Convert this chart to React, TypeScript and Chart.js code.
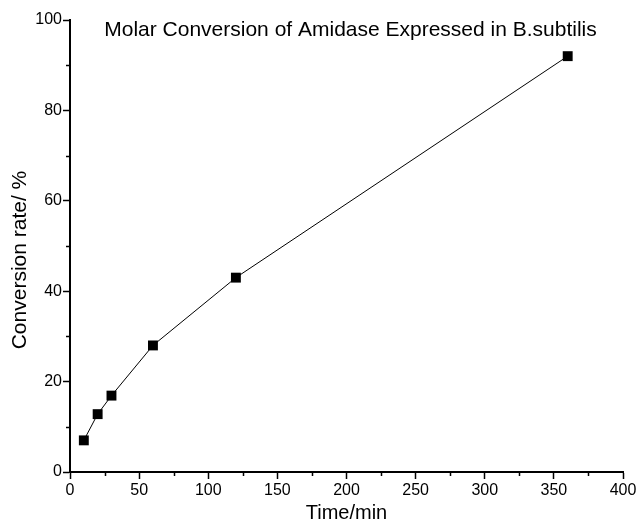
import React, { useEffect, useRef } from "react";
import { Chart, registerables } from "chart.js";

Chart.register(...registerables);

const chartTitle = "Molar Conversion of Amidase Expressed in B.subtilis";
const xAxisTitle = "Time/min";
const yAxisTitle = "Conversion rate/ %";
const timeMin = [10, 20, 30, 60, 120, 360];
const conversionRate = [7, 12.8, 16.9, 28, 43, 92];
const xMinorTicks = [25, 75, 125, 175, 225, 275, 325, 375];
const yMinorTicks = [10, 30, 50, 70, 90];

const FONT = '"Liberation Sans", Arial, sans-serif';

const minorTicksAndTitle = {
  id: "minorTicksAndTitle",
  afterDraw(chart: any) {
    const ctx = chart.ctx;
    const xs = chart.scales.x;
    const ys = chart.scales.y;
    const area = chart.chartArea;
    ctx.save();
    ctx.strokeStyle = "#000";
    ctx.lineWidth = 1.5;
    ctx.beginPath();
    xMinorTicks.forEach((v) => {
      const px = Math.round(xs.getPixelForValue(v)) + 0.5;
      ctx.moveTo(px, area.bottom);
      ctx.lineTo(px, area.bottom + 4);
    });
    yMinorTicks.forEach((v) => {
      const py = Math.round(ys.getPixelForValue(v)) + 0.5;
      ctx.moveTo(area.left, py);
      ctx.lineTo(area.left - 4, py);
    });
    ctx.stroke();
    ctx.fillStyle = "#000";
    ctx.textAlign = "center";
    ctx.textBaseline = "middle";
    ctx.font = `21px ${FONT}`;
    ctx.fillText(chartTitle, (area.left + area.right) / 2 + 4, area.top + 10);
    // y-axis title, centred slightly below the plot centre as in the reference
    ctx.translate(20, (area.top + area.bottom) / 2 + 14);
    ctx.rotate(-Math.PI / 2);
    ctx.font = `21px ${FONT}`;
    ctx.fillText(yAxisTitle, 0, 0);
    ctx.restore();
  },
};

export default function App() {
  const ref = useRef<HTMLCanvasElement | null>(null);
  useEffect(() => {
    if (!ref.current) return;
    const points = timeMin.map((t, i) => ({ x: t, y: conversionRate[i] }));
    const chart = new Chart(ref.current, {
      type: "scatter",
      data: {
        datasets: [
          {
            data: points,
            showLine: true,
            borderColor: "#000",
            borderWidth: 1,
            backgroundColor: "#000",
            pointStyle: "rect",
            pointRadius: 7,
            pointBorderWidth: 0,
          },
        ],
      },
      options: {
        animation: false,
        responsive: true,
        maintainAspectRatio: false,
        layout: { padding: { top: 20, right: 17, left: 0, bottom: 0 } },
        plugins: {
          legend: { display: false },
          tooltip: { enabled: false },
          title: { display: false },
        },
        scales: {
          x: {
            type: "linear",
            min: 0,
            max: 400,
            afterFit: (s: any) => {
              s.height = 53;
            },
            ticks: {
              stepSize: 50,
              color: "#000",
              font: { family: FONT, size: 16 },
              padding: 2,
              maxRotation: 0,
            },
            grid: {
              display: true,
              drawOnChartArea: false,
              drawTicks: true,
              tickLength: 7,
              tickWidth: 1.5,
              tickColor: "#000",
              color: "#000",
            },
            border: { display: true, color: "#000", width: 2 },
            title: {
              display: true,
              text: xAxisTitle,
              color: "#000",
              font: { family: FONT, size: 20 },
              padding: { top: 0, bottom: 0 },
            },
          },
          y: {
            type: "linear",
            min: 0,
            max: 100,
            afterFit: (s: any) => {
              s.width = 70;
            },
            ticks: {
              stepSize: 20,
              color: "#000",
              font: { family: FONT, size: 16 },
              padding: 1,
            },
            grid: {
              display: true,
              drawOnChartArea: false,
              drawTicks: true,
              tickLength: 7,
              tickWidth: 1.5,
              tickColor: "#000",
              color: "#000",
            },
            border: { display: true, color: "#000", width: 2 },
            title: { display: false, text: yAxisTitle },
          },
        },
      },
      plugins: [minorTicksAndTitle],
    });
    return () => chart.destroy();
  }, []);
  return (
    <div
      style={{
        position: "fixed",
        left: 0,
        top: 0,
        width: 640,
        height: 525,
        background: "#fff",
      }}
    >
      <canvas ref={ref} />
    </div>
  );
}
